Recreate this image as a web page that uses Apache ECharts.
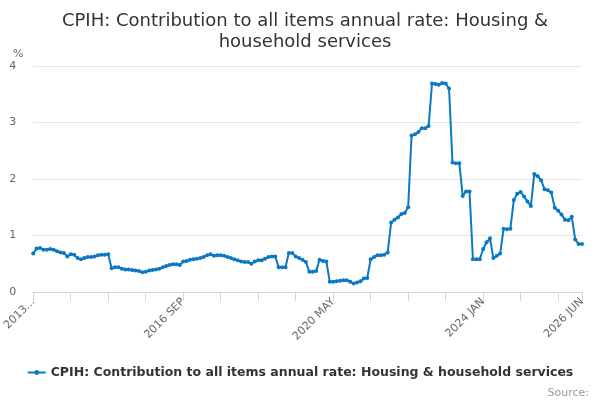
<!DOCTYPE html>
<html>
<head>
<meta charset="utf-8">
<script src="https://cdn.jsdelivr.net/npm/echarts@6/dist/echarts.min.js"></script>
<style>
  html, body { margin: 0; padding: 0; background: #fff; }
  #main-chart { width: 600px; height: 400px; }
</style>
</head>
<body>
<div id="main-chart"></div>
<script>
// monthly, 2013 JAN .. 2026 JUN
var months = ['JAN','FEB','MAR','APR','MAY','JUN','JUL','AUG','SEP','OCT','NOV','DEC'];
var startYear = 2013;
var pointCount = 162;

var categories = [];
for (var i = 0; i < pointCount; i++) {
    categories.push((startYear + Math.floor(i / 12)) + ' ' + months[i % 12]);
}

var housingValues = [
    0.68, 0.77, 0.78, 0.75, 0.75, 0.76, 0.75, 0.72, 0.70, 0.69, 0.63, 0.67,
    0.66, 0.60, 0.58, 0.60, 0.62, 0.62, 0.63, 0.65, 0.66, 0.66, 0.67, 0.42,
    0.44, 0.44, 0.41, 0.40, 0.40, 0.39, 0.38, 0.37, 0.35, 0.36, 0.38, 0.39,
    0.40, 0.41, 0.44, 0.46, 0.48, 0.49, 0.49, 0.48, 0.54, 0.55, 0.57, 0.58,
    0.59, 0.60, 0.62, 0.65, 0.67, 0.64, 0.65, 0.65, 0.64, 0.62, 0.60, 0.58,
    0.56, 0.54, 0.53, 0.53, 0.50, 0.54, 0.56, 0.56, 0.59, 0.62, 0.63, 0.63,
    0.44, 0.44, 0.44, 0.69, 0.69, 0.63, 0.60, 0.57, 0.53, 0.36, 0.36, 0.37,
    0.57, 0.55, 0.54, 0.18, 0.18, 0.19, 0.20, 0.21, 0.21, 0.18, 0.15, 0.17,
    0.19, 0.24, 0.25, 0.58, 0.62, 0.65, 0.65, 0.66, 0.70, 1.23, 1.28, 1.32,
    1.38, 1.40, 1.50, 2.77, 2.79, 2.83, 2.90, 2.90, 2.94, 3.69, 3.68, 3.67,
    3.70, 3.69, 3.60, 2.29, 2.28, 2.28, 1.70, 1.78, 1.78, 0.58, 0.58, 0.58,
    0.76, 0.88, 0.95, 0.60, 0.64, 0.68, 1.12, 1.11, 1.12, 1.63, 1.74, 1.77,
    1.69, 1.60, 1.52, 2.09, 2.05, 1.98, 1.82, 1.80, 1.76, 1.49, 1.44, 1.37,
    1.28, 1.27, 1.33, 0.93, 0.85, 0.85
];

var seriesName = 'CPIH: Contribution to all items annual rate: Housing & household services';
var chartTitle = 'CPIH: Contribution to all items annual rate: Housing &\nhousehold services';
var yTicks = [0, 1, 2, 3, 4];

var font = 'DejaVu Sans';
var lastIndex = pointCount - 1;

var dom = document.getElementById('main-chart');
var myChart = echarts.init(dom);
var option = {
    animation: false,
    textStyle: { fontFamily: font },
    title: [
        {
            text: chartTitle,
            left: 300,
            top: 6,
            textAlign: 'center',
            textStyle: { fontFamily: font, fontSize: 18, fontWeight: 'normal', color: '#333333', lineHeight: 21 }
        },
        {
            text: '%',
            left: 8,
            top: 44,
            textStyle: { fontFamily: font, fontSize: 11, fontWeight: 'normal', color: '#666666' }
        },
        {
            text: 'Source:',
            right: 6,
            top: 383,
            textStyle: { fontFamily: font, fontSize: 11, fontWeight: 'normal', color: '#999999' }
        }
    ],
    legend: {
        bottom: 16,
        left: 'center',
        itemWidth: 18,
        itemHeight: 6,
        itemGap: 6,
        textStyle: { fontFamily: font, fontSize: 12.5, fontWeight: 'bold', color: '#333333' },
        data: [seriesName]
    },
    grid: { left: 33, right: 18, top: 66, bottom: 108 },
    xAxis: {
        type: 'category',
        boundaryGap: false,
        data: categories,
        axisLine: { lineStyle: { color: '#ccd6eb', width: 1 } },
        axisTick: {
            length: 9,
            lineStyle: { color: '#ccd6eb' },
            interval: function (index) { return index % 11 === 0 || index === lastIndex; }
        },
        axisLabel: {
            rotate: 45,
            margin: 8,
            color: '#666666',
            fontSize: 11,
            fontFamily: font,
            interval: function (index) { return index % 44 === 0 || index === lastIndex; },
            formatter: function (value, index) { return index === 0 ? '2013...' : value; }
        }
    },
    yAxis: {
        type: 'value',
        min: yTicks[0],
        max: yTicks[yTicks.length - 1],
        interval: 1,
        axisLine: { show: false },
        axisTick: { show: false },
        axisLabel: { color: '#666666', fontSize: 11, fontFamily: font, margin: 17 },
        splitLine: { lineStyle: { color: '#e6e6e6', width: 1 } }
    },
    series: [
        {
            name: seriesName,
            type: 'line',
            data: housingValues,
            symbol: 'circle',
            symbolSize: 4,
            showSymbol: true,
            showAllSymbol: true,
            color: '#0a78c2',
            lineStyle: { color: '#0a78c2', width: 2 },
            itemStyle: { color: '#0a78c2' }
        }
    ]
};
myChart.setOption(option, true);
</script>
</body>
</html>
